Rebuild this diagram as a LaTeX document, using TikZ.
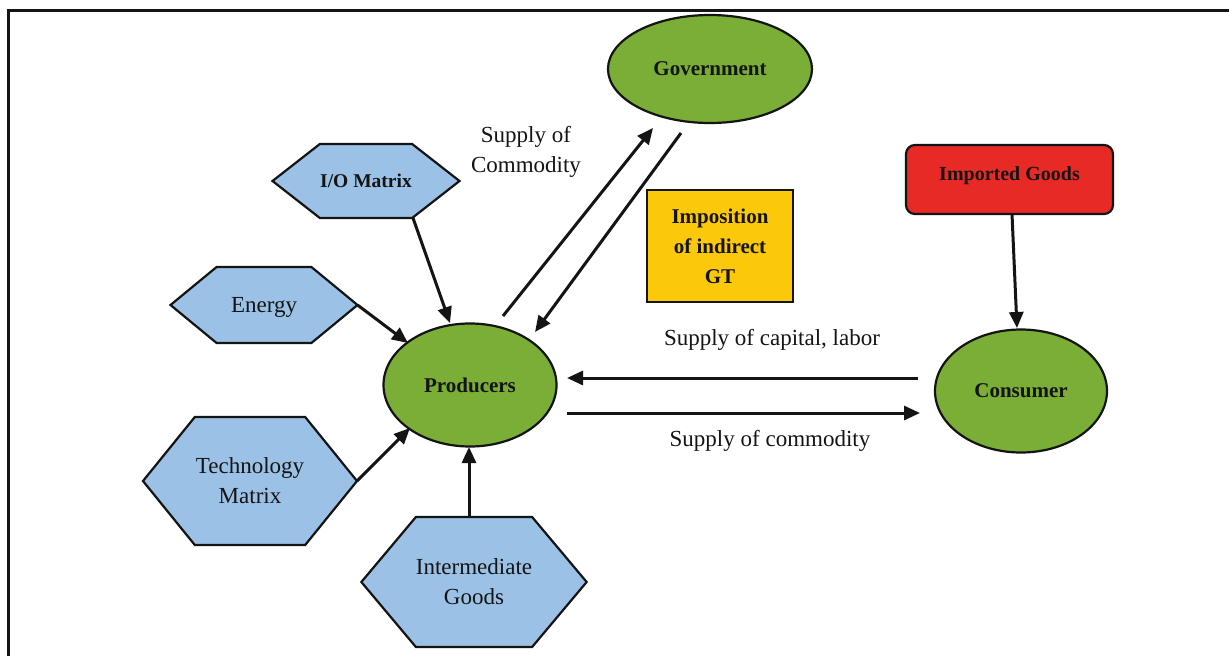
\documentclass[tikz,border=0pt]{standalone}
\usepackage{fontspec}
\setmainfont{Liberation Serif}
\usetikzlibrary{arrows.meta,shapes.geometric,shapes.symbols,calc}
\definecolor{hexblue}{RGB}{155,194,230}
\definecolor{ovalgreen}{RGB}{122,174,54}
\definecolor{boxred}{RGB}{232,42,38}
\definecolor{boxyellow}{RGB}{252,200,10}
\definecolor{ink}{RGB}{20,20,20}

\begin{document}
\begin{tikzpicture}[x=1pt,y=-1pt,
  every node/.style={font=\fontsize{23}{30}\selectfont, text=ink, inner sep=0pt, outer sep=0pt},
  hexbox/.style={shape=signal, signal to=west and east, draw=ink, line width=2.2pt, fill=hexblue, align=center},
  oval/.style={ellipse, draw=ink, line width=2.2pt, fill=ovalgreen, font=\fontsize{21}{26}\selectfont\bfseries},
  flow/.style={draw=ink, line width=3pt, -{Triangle[length=16pt,width=14pt]}},
  flowtext/.style={align=center}
]
\useasboundingbox (0,0) rectangle (1229,656);
\fill[white] (0,0) rectangle (1229,656);
% page frame
\draw[ink, line width=3pt] (8.5,656) -- (8.5,10) -- (1229,10);

% agents
\node[oval, minimum width=204pt, minimum height=108pt] (gov) at (710,69) {Government};
\node[oval, minimum width=173pt, minimum height=123pt] (prod) at (470,385) {Producers};
\node[oval, minimum width=172pt, minimum height=123pt] (cons) at (1021,391) {Consumer};

% inputs
\node[hexbox, minimum width=187pt, minimum height=74pt, signal pointer angle=76,
      font=\fontsize{19.5}{24}\selectfont\bfseries] (io) at (366,181) {I/O Matrix};
\node[hexbox, minimum width=187pt, minimum height=76pt, signal pointer angle=79,
      text depth=0pt, font=\fontsize{23}{28}\selectfont] (energy) at (264,305) {Energy};
\node[hexbox, minimum width=214pt, minimum height=128pt, signal pointer angle=102] (tech) at (250,481) {Technology\\Matrix};
\node[hexbox, minimum width=223pt, minimum height=130pt, signal pointer angle=100] (inter) at (474,582) {Intermediate\\Goods};

% boxes
\node[draw=ink, line width=2.2pt, fill=boxred, rounded corners=9pt, minimum width=207pt, minimum height=69pt,
      text depth=12pt, font=\fontsize{20}{24}\selectfont\bfseries] (imp) at (1009.5,179.5) {Imported Goods};
\node[draw=ink, line width=1.8pt, fill=boxyellow, minimum width=146pt, minimum height=112pt, align=center,
      font=\fontsize{21}{30}\selectfont\bfseries] (tax) at (720,246) {Imposition\\of indirect\\GT};

% flow labels
\node[flowtext] (lgov) at (526,152) {Supply of\\Commodity};
\node[flowtext] (lcap) at (772,340) {Supply of capital, labor};
\node[flowtext] (lcom) at (770,441) {Supply of commodity};

% flows
\draw[flow] ($(io.center)+(47,37)$) -- ($(prod.center)+(-20,-62)$);
\draw[flow] (energy.east) -- ($(prod.center)+(-62,-42)$);
\draw[flow] (tech.east) -- ($(prod.center)+(-60,43)$);
\draw[flow] ($(inter.center)+(-5,-65)$) -- ($(prod.center)+(-1,62)$);
\draw[flow] ($(prod.center)+(33,-69)$) -- ($(gov.center)+(-57,59)$);
\draw[flow] ($(gov.center)+(-29,64)$) -- ($(prod.center)+(65,-53)$);
\draw[flow] ($(cons.center)+(-103,-13)$) -- ($(prod.center)+(97,-7)$);
\draw[flow] ($(prod.center)+(97,28)$) -- ($(cons.center)+(-101,22)$);
\draw[flow] ($(imp.center)+(2.5,34.5)$) -- ($(cons.center)+(-4,-63)$);
\end{tikzpicture}
\end{document}
